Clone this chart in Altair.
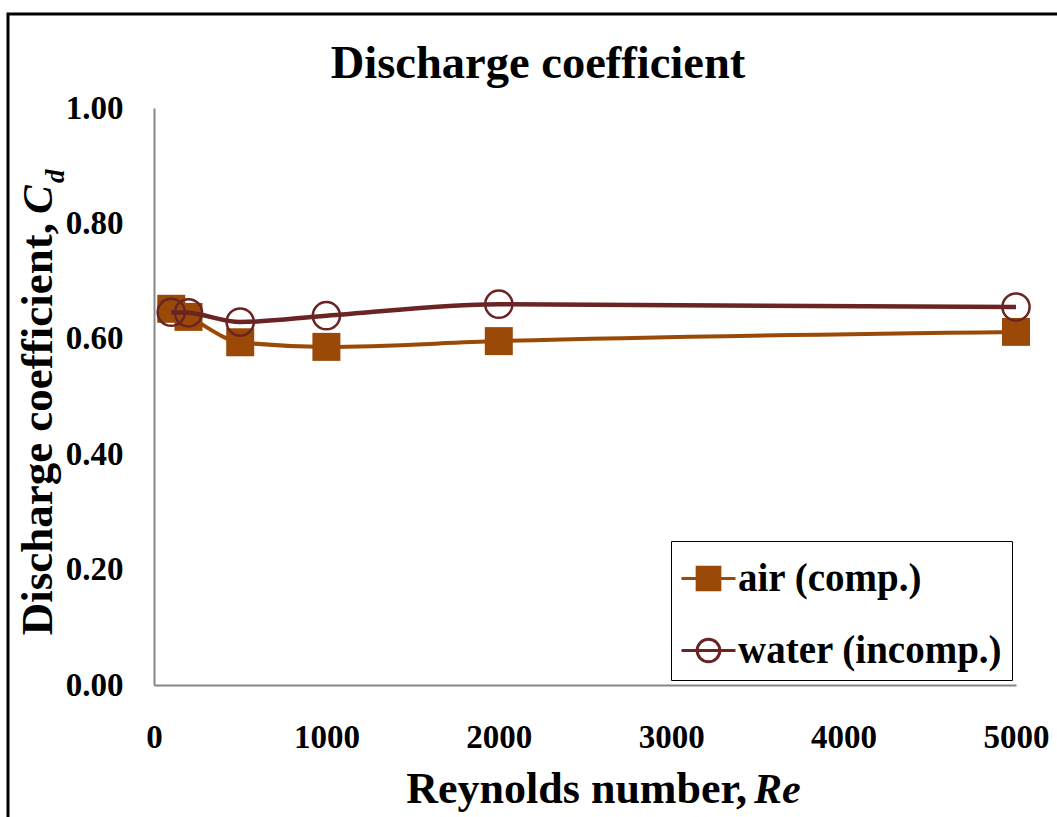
import altair as alt
import pandas as pd

FONT = "Liberation Serif"

# ---- data ----
reynolds = [100, 200, 500, 1000, 2000, 5000]
cd_air = [0.652, 0.638, 0.594, 0.586, 0.596, 0.612]
cd_water = [0.646, 0.645, 0.629, 0.640, 0.660, 0.655]
series_names = ["air (comp.)", "water (incomp.)"]
series_colors = ["#9A4A06", "#6A2424"]
x_ticks = [0, 1000, 2000, 3000, 4000, 5000]
y_ticks = [0.0, 0.2, 0.4, 0.6, 0.8, 1.0]

air_df = pd.DataFrame({"re": reynolds, "cd": cd_air, "series": series_names[0]})
water_df = pd.DataFrame({"re": reynolds, "cd": cd_water, "series": series_names[1]})
both_df = pd.concat([air_df, water_df], ignore_index=True)

W, H = 862, 577
PAD_L, PAD_T = 154, 108

# legend glyphs: line through a marker
air_path = "M-1,0H1M-0.42,-0.42H0.42V0.42H-0.42Z"
water_path = "M-1,0H1M0.42,0A0.42,0.42,0,1,1,-0.42,0A0.42,0.42,0,1,1,0.42,0Z"

legend = alt.Legend(
    title=None,
    orient="none",
    legendX=517,
    legendY=433,
    strokeColor="black",
    fillColor="white",
    padding=9,
    labelFont=FONT,
    labelFontSize=39,
    labelFontWeight="bold",
    labelColor="black",
    labelOffset=1,
    labelLimit=0,
    symbolSize=2916,
    symbolStrokeWidth=3,
    symbolOpacity=1,
    rowPadding=23,
)

x_enc = alt.X(
    "re:Q",
    scale=alt.Scale(domain=[0, 5000], nice=False, zero=False),
    axis=alt.Axis(
        values=x_ticks, title=None, grid=False, ticks=False, tickSize=0,
        labelPadding=36, labelFont=FONT, labelFontSize=33, labelFontWeight="bold",
        labelColor="black", labelFlush=False, labelOverlap=False, labelBound=False,
        domainColor="#868686", domainWidth=2, format="d",
    ),
)
y_enc = alt.Y(
    "cd:Q",
    scale=alt.Scale(domain=[0, 1], nice=False),
    axis=alt.Axis(
        values=y_ticks, title=None, grid=False, ticks=False, tickSize=0,
        labelPadding=31, labelFont=FONT, labelFontSize=33, labelFontWeight="bold",
        labelColor="black", labelFlush=False, labelOverlap=False, labelBound=False,
        domainColor="#868686", domainWidth=2, format=".2f",
    ),
)

air_line = alt.Chart(air_df).mark_line(
    interpolate="monotone", strokeWidth=4, color=series_colors[0]
).encode(x=x_enc, y=y_enc)
air_pts = alt.Chart(air_df).mark_point(
    shape="square", filled=True, size=784, color=series_colors[0], opacity=1
).encode(x="re:Q", y="cd:Q")
water_line = alt.Chart(water_df).mark_line(
    interpolate="monotone", strokeWidth=4.5, color=series_colors[1]
).encode(x="re:Q", y="cd:Q")
water_pts = alt.Chart(water_df).mark_point(
    shape="circle", filled=False, size=740, color=series_colors[1], strokeWidth=2.5, opacity=1
).encode(x="re:Q", y="cd:Q")

# legend-only layer (no rows drawn; the legend comes from the explicit scale domains)
legend_layer = alt.Chart(both_df).transform_filter("false").mark_point(strokeWidth=3, opacity=1).encode(
    x="re:Q", y="cd:Q",
    shape=alt.Shape("series:N", scale=alt.Scale(domain=series_names, range=[air_path, water_path]), legend=legend),
    fill=alt.Fill("series:N", scale=alt.Scale(domain=series_names, range=[series_colors[0], "transparent"]), legend=legend),
    stroke=alt.Stroke("series:N", scale=alt.Scale(domain=series_names, range=series_colors), legend=legend),
)

one = pd.DataFrame({"a": [0]})

border = alt.Chart(one).mark_rect(fill="transparent", stroke="black", strokeWidth=3).encode(
    x=alt.value(8 - PAD_L), x2=alt.value(1100 - PAD_L),
    y=alt.value(14 - PAD_T), y2=alt.value(860 - PAD_T),
)


def txt(text, x, y, size, align="left", italic=False, angle=0):
    kw = dict(text=text, font=FONT, fontSize=size, fontWeight="bold", align=align,
              baseline="alphabetic", color="black")
    if italic:
        kw["fontStyle"] = "italic"
    if angle:
        kw["angle"] = angle
    return alt.Chart(one).mark_text(**kw).encode(x=alt.value(x - PAD_L), y=alt.value(y - PAD_T))


title = txt("Discharge coefficient", 538, 78, 46.5, align="center")
xt1 = txt("Reynolds number,", 747, 803, 44, align="right")
xt2 = txt("Re", 754, 803, 42, align="left", italic=True)
yt1 = txt("Discharge coefficient,", 52, 223, 45, align="right", angle=270)
yt2 = txt("C", 52, 214, 43, align="left", italic=True, angle=270)
yt3 = txt("d", 64, 183, 27, align="left", italic=True, angle=270)

chart = alt.layer(
    border, air_line, air_pts, water_line, water_pts, legend_layer,
    title, xt1, xt2, yt1, yt2, yt3,
).properties(
    width=W, height=H,
    autosize=alt.AutoSizeParams(type="none"),
    padding={"left": PAD_L, "top": PAD_T, "right": 1057 - PAD_L - W, "bottom": 817 - PAD_T - H},
).configure_view(stroke="transparent")

chart.save("out.html", embed_options={"renderer": "svg", "actions": False})
